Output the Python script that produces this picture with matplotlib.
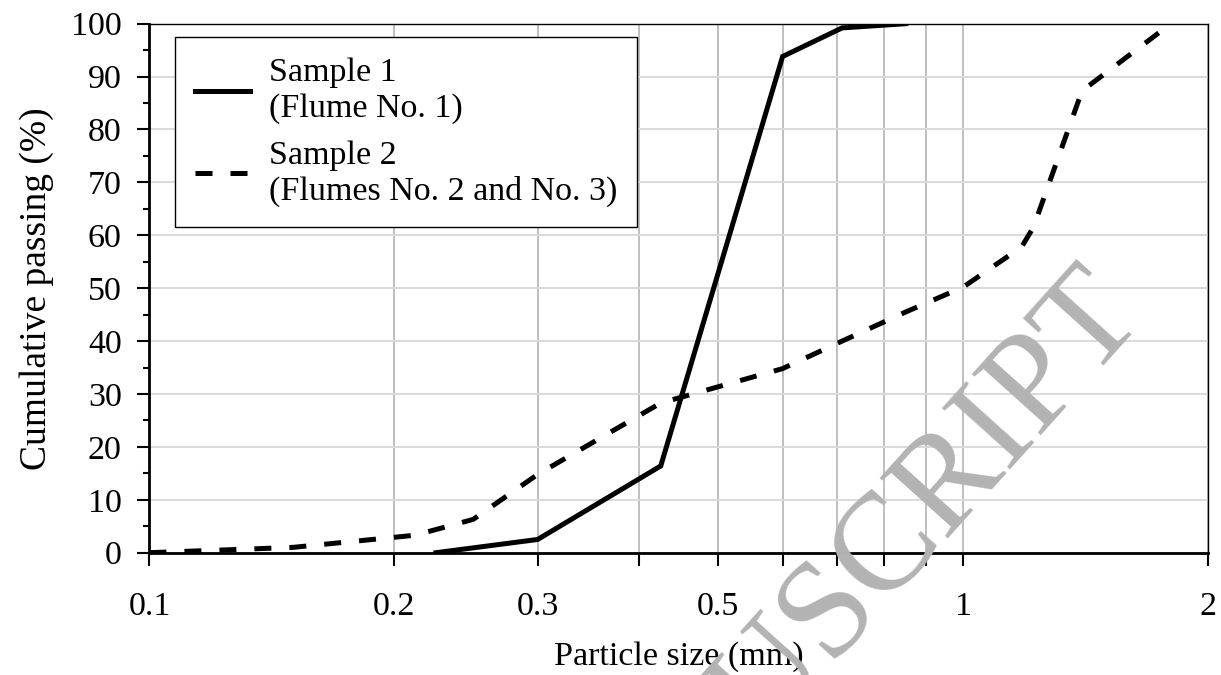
import numpy as np
import matplotlib.pyplot as plt
from matplotlib.ticker import FixedLocator, NullFormatter, MultipleLocator

plt.rcParams['font.family'] = ['Liberation Serif', 'DejaVu Serif']

# Sample 1 (Flume No. 1)
tamanho_1 = [0.225, 0.3, 0.425, 0.6, 0.71, 0.85]
passante_1 = [0.0, 2.5, 16.4, 93.8, 99.2, 100.0]

# Sample 2 (Flumes No. 2 and No. 3)
tamanho_2 = [0.1, 0.15, 0.212, 0.25, 0.3, 0.425, 0.6, 0.71, 0.85, 1.0, 1.18, 1.22, 1.4, 1.8]
passante_2 = [0.0, 1.0, 3.3, 6.3, 14.8, 28.3, 34.8, 40.0, 45.5, 50.2, 57.8, 61.5, 87.3, 100.0]

ticks_x = [0.1, 0.2, 0.3, 0.4, 0.5, 0.6, 0.7, 0.8, 0.9, 1, 2]
rotulos_x = {0.1: '0.1', 0.2: '0.2', 0.3: '0.3', 0.5: '0.5', 1: '1', 2: '2'}

fig = plt.figure(figsize=(12.21, 6.75), dpi=100)
ax = fig.add_axes([0.1224, 0.1812, 0.8670, 0.7837])

ax.plot(tamanho_1, passante_1, color='black', lw=3.6, solid_joinstyle='miter',
        label='Sample 1\n(Flume No. 1)', zorder=3)
ax.plot(tamanho_2, passante_2, color='black', lw=3.6, dashes=(3.4, 3.6),
        dash_capstyle='butt', label='Sample 2\n(Flumes No. 2 and No. 3)', zorder=3)

ax.set_xscale('log')
ax.set_xlim(0.1, 2)
ax.set_ylim(0, 100)

ax.xaxis.set_major_locator(FixedLocator(ticks_x))
ax.xaxis.set_minor_locator(FixedLocator([]))
ax.xaxis.set_major_formatter(plt.FuncFormatter(lambda v, p: rotulos_x.get(round(v, 2), '')))
ax.xaxis.set_minor_formatter(NullFormatter())
ax.yaxis.set_major_locator(MultipleLocator(10))
ax.yaxis.set_minor_locator(MultipleLocator(5))

# grades: vertical mais escura que a horizontal
ax.grid(True, axis='x', which='major', color='#bfbfbf', lw=1.4)
ax.grid(True, axis='y', which='major', color='#d9d9d9', lw=1.4)
ax.set_axisbelow(True)

ax.tick_params(axis='both', which='major', direction='out', length=9, width=1.5,
               labelsize=24.5, color='black')
ax.tick_params(axis='x', which='major', pad=19)
ax.tick_params(axis='y', which='major', pad=11)
ax.tick_params(axis='y', which='minor', direction='out', length=4, width=1.5)

for lado in ['left', 'bottom']:
    ax.spines[lado].set_linewidth(2.0)
for lado in ['top', 'right']:
    ax.spines[lado].set_linewidth(1.0)

ax.set_xlabel('Particle size (mm)', fontsize=24.5, labelpad=14)
ax.set_ylabel('Cumulative passing (%)', fontsize=27, labelpad=12)

leg = ax.legend(loc='upper left', bbox_to_anchor=(0.0241, 0.9743), borderaxespad=0,
                fontsize=24.5, frameon=True, fancybox=False, edgecolor='black',
                framealpha=1, handlelength=1.6, handletextpad=0.55, borderpad=0.6,
                labelspacing=0.48)
leg.get_frame().set_linewidth(1.0)

# marca d'agua
fig.text(0.672, 0.073, 'MANUSCRIPT', fontsize=100, color='#b3b3b3', rotation=48,
         ha='center', va='center', zorder=10)

plt.savefig('out.png', dpi=100)
